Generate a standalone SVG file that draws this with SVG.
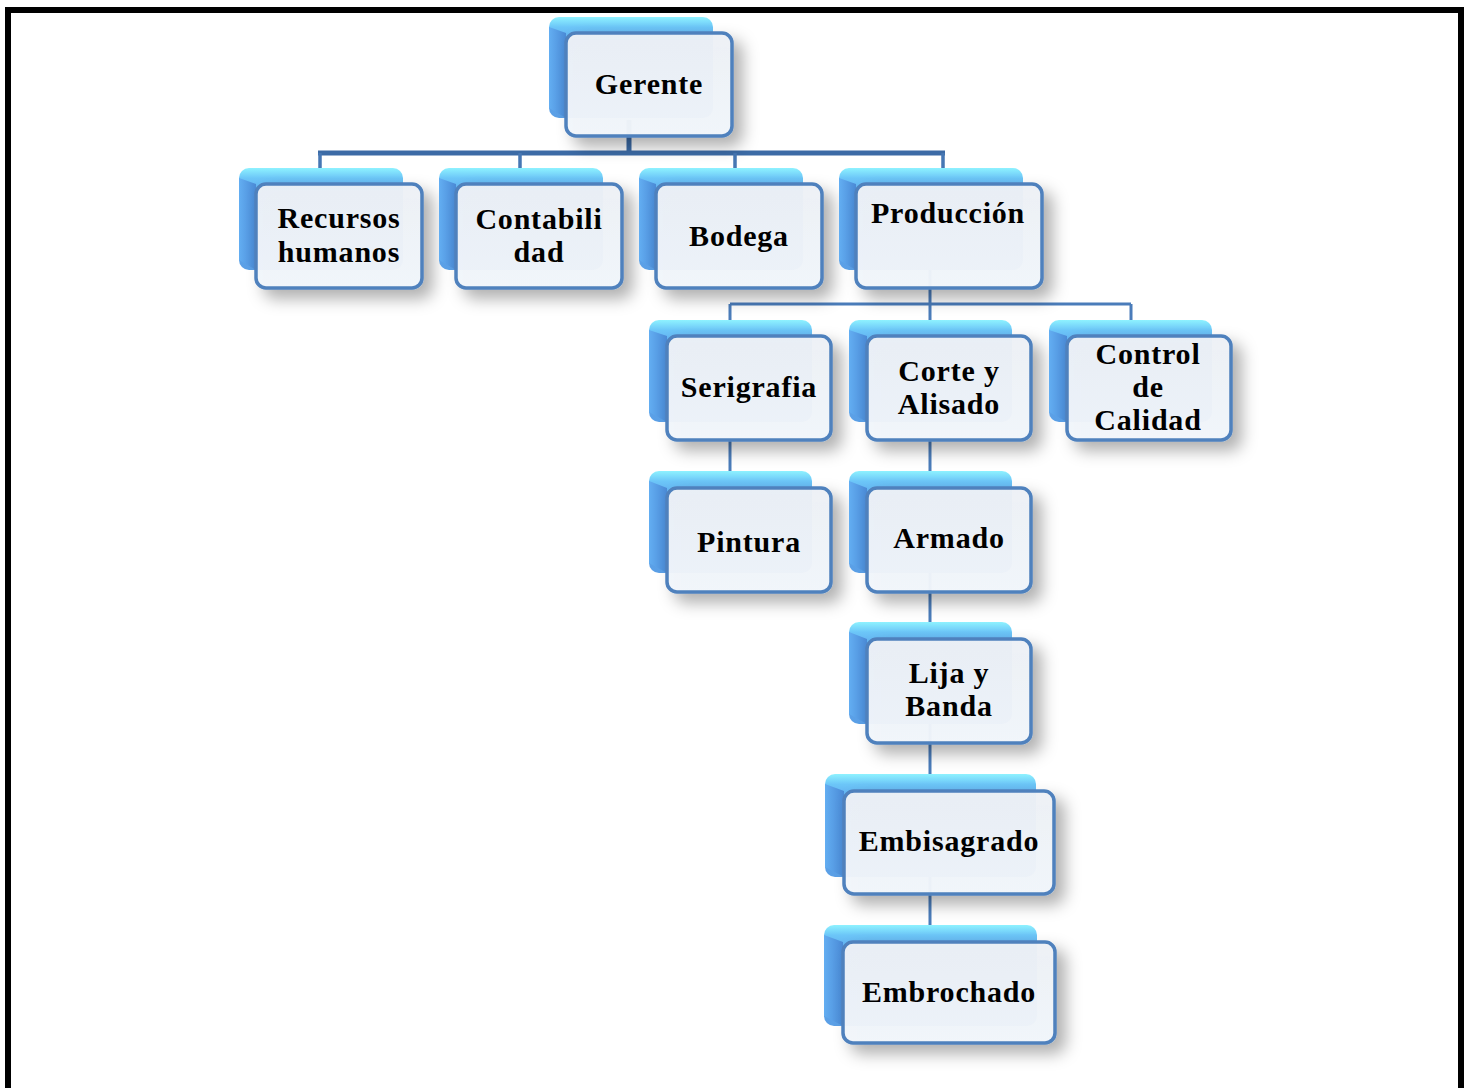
<svg xmlns="http://www.w3.org/2000/svg" width="1469" height="1088" viewBox="0 0 1469 1088">
<defs>
<linearGradient id="gBack" x1="0" y1="0" x2="0" y2="1">
<stop offset="0" stop-color="#8ef2ff"/>
<stop offset="0.1" stop-color="#6cc6f8"/>
<stop offset="0.25" stop-color="#5ea9ee"/>
<stop offset="1" stop-color="#5a9fe6"/>
</linearGradient>
<linearGradient id="gSide" x1="0" y1="0" x2="1" y2="0">
<stop offset="0" stop-color="#63aef2"/>
<stop offset="1" stop-color="#4a8ad6"/>
</linearGradient>
<linearGradient id="gFront" x1="0" y1="0" x2="0" y2="1">
<stop offset="0" stop-color="#eef1f6"/>
<stop offset="1" stop-color="#f2f6fb"/>
</linearGradient>
<filter id="sh" x="-20%" y="-20%" width="150%" height="160%">
<feDropShadow dx="9" dy="9" stdDeviation="8" flood-color="#000" flood-opacity="0.32"/>
</filter>
<style>
.back{fill:url(#gBack);}
.side{fill:url(#gSide);}
.front{fill:url(#gFront);fill-opacity:0.96;stroke:#4f81bd;stroke-width:3.5;filter:url(#sh);}
.t{font-family:"Liberation Serif","Times New Roman",serif;font-weight:bold;font-size:30px;letter-spacing:0.8px;fill:#000;text-anchor:middle;}
.c1{stroke:#3c6ba6;stroke-width:5;fill:none;}
.c2{stroke:#4677b4;stroke-width:3.5;fill:none;}
.c3{stroke:#4a7cba;stroke-width:3;fill:none;}
</style>
</defs>
<rect x="0" y="0" width="1469" height="1088" fill="#ffffff"/>
<path d="M8 1100 V10 H1461 V1100" fill="none" stroke="#000" stroke-width="6"/>

<g id="connectors">
<path class="c1" d="M629 120 V153 M318 153 H945"/>
<path class="c2" d="M320 153 V170 M520 153 V170 M735 153 V170 M943 153 V170"/>
<path class="c3" d="M930 270 V304 M730 304 H1131 M730 304 V321 M930 304 V321 M1131 304 V321"/>
<path class="c3" d="M730 440 V473"/>
<path class="c3" d="M930 440 V925"/>
</g>

<g id="n-gerente">
<rect class="back" x="549" y="17" width="164" height="101" rx="10"/>
<path class="side" d="M549 27 L566 33 L566 118 L549 108 Z"/>
<rect class="front" x="566" y="33" width="166" height="103" rx="10"/>
<text class="t" x="649" y="94">Gerente</text>
</g>

<g id="n-recursos">
<rect class="back" x="239" y="168" width="164" height="102" rx="10"/>
<path class="side" d="M239 178 L256 184 L256 270 L239 260 Z"/>
<rect class="front" x="256" y="184" width="166" height="104" rx="10"/>
<text class="t" x="339" y="228">Recursos</text>
<text class="t" x="339" y="262">humanos</text>
</g>

<g id="n-contabilidad">
<rect class="back" x="439" y="168" width="164" height="102" rx="10"/>
<path class="side" d="M439 178 L456 184 L456 270 L439 260 Z"/>
<rect class="front" x="456" y="184" width="166" height="104" rx="10"/>
<text class="t" x="539" y="229">Contabili</text>
<text class="t" x="539" y="262">dad</text>
</g>

<g id="n-bodega">
<rect class="back" x="639" y="168" width="164" height="102" rx="10"/>
<path class="side" d="M639 178 L656 184 L656 270 L639 260 Z"/>
<rect class="front" x="656" y="184" width="166" height="104" rx="10"/>
<text class="t" x="739" y="246">Bodega</text>
</g>

<g id="n-produccion">
<rect class="back" x="839" y="168" width="184" height="102" rx="10"/>
<path class="side" d="M839 178 L856 184 L856 270 L839 260 Z"/>
<rect class="front" x="856" y="184" width="186" height="104" rx="10"/>
<text class="t" x="948" y="223">Producción</text>
</g>

<g id="n-serigrafia">
<rect class="back" x="649" y="320" width="163" height="102" rx="10"/>
<path class="side" d="M649 330 L667 336 L667 422 L649 412 Z"/>
<rect class="front" x="667" y="336" width="164" height="104" rx="10"/>
<text class="t" x="749" y="397">Serigrafia</text>
</g>

<g id="n-corte">
<rect class="back" x="849" y="320" width="163" height="102" rx="10"/>
<path class="side" d="M849 330 L867 336 L867 422 L849 412 Z"/>
<rect class="front" x="867" y="336" width="164" height="104" rx="10"/>
<text class="t" x="949" y="381">Corte y</text>
<text class="t" x="949" y="414">Alisado</text>
</g>

<g id="n-control">
<rect class="back" x="1049" y="320" width="163" height="102" rx="10"/>
<path class="side" d="M1049 330 L1067 336 L1067 422 L1049 412 Z"/>
<rect class="front" x="1067" y="336" width="164" height="104" rx="10"/>
<text class="t" x="1148" y="364">Control</text>
<text class="t" x="1148" y="397">de</text>
<text class="t" x="1148" y="430">Calidad</text>
</g>

<g id="n-pintura">
<rect class="back" x="649" y="471" width="163" height="102" rx="10"/>
<path class="side" d="M649 481 L667 488 L667 573 L649 563 Z"/>
<rect class="front" x="667" y="488" width="164" height="104" rx="10"/>
<text class="t" x="749" y="552">Pintura</text>
</g>

<g id="n-armado">
<rect class="back" x="849" y="471" width="163" height="102" rx="10"/>
<path class="side" d="M849 481 L867 488 L867 573 L849 563 Z"/>
<rect class="front" x="867" y="488" width="164" height="104" rx="10"/>
<text class="t" x="949" y="548">Armado</text>
</g>

<g id="n-lija">
<rect class="back" x="849" y="622" width="163" height="102" rx="10"/>
<path class="side" d="M849 632 L867 639 L867 724 L849 714 Z"/>
<rect class="front" x="867" y="639" width="164" height="104" rx="10"/>
<text class="t" x="949" y="683">Lija y</text>
<text class="t" x="949" y="716">Banda</text>
</g>

<g id="n-embisagrado">
<rect class="back" x="825" y="774" width="211" height="103" rx="10"/>
<path class="side" d="M825 784 L844 791 L844 877 L825 867 Z"/>
<rect class="front" x="844" y="791" width="210" height="103" rx="10"/>
<text class="t" x="949" y="851">Embisagrado</text>
</g>

<g id="n-embrochado">
<rect class="back" x="824" y="925" width="213" height="101" rx="10"/>
<path class="side" d="M824 935 L843 942 L843 1026 L824 1016 Z"/>
<rect class="front" x="843" y="942" width="212" height="101" rx="10"/>
<text class="t" x="949" y="1002">Embrochado</text>
</g>
</svg>
